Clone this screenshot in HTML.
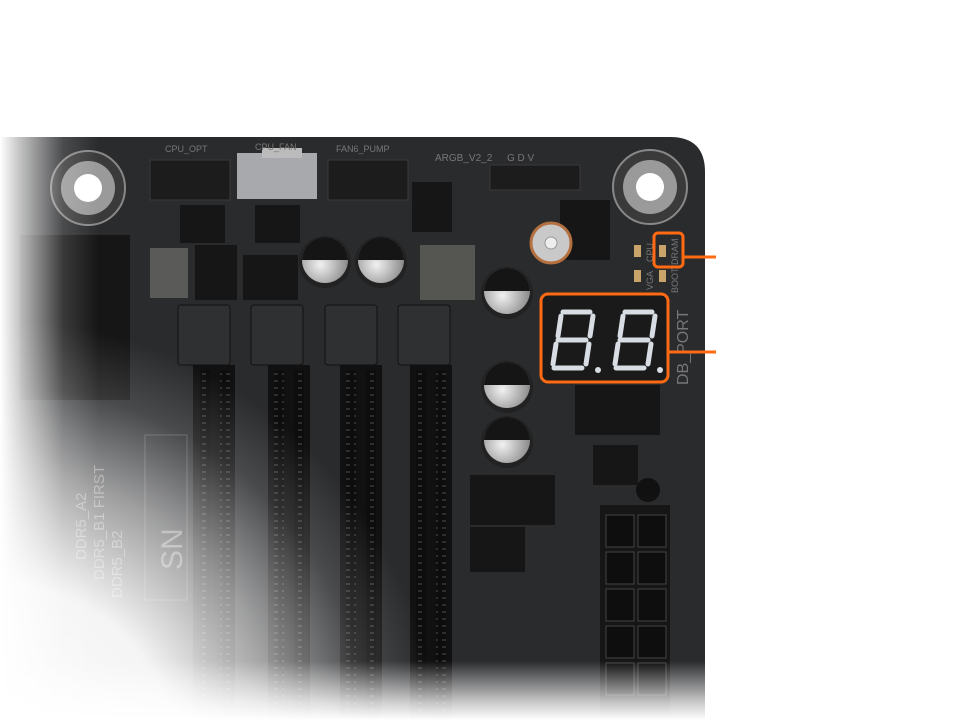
<!DOCTYPE html>
<html><head><meta charset="utf-8"><style>
html,body{margin:0;padding:0;background:#fff;}
svg{display:block}
text{font-family:"Liberation Sans",sans-serif;}
</style></head><body>
<svg width="960" height="720" viewBox="0 0 960 720" xmlns="http://www.w3.org/2000/svg">
<defs>
<linearGradient id="fadeL" x1="0" x2="1" y1="0" y2="0">
<stop offset="0" stop-color="#fff" stop-opacity="1"/>
<stop offset="0.03" stop-color="#fff" stop-opacity="0.7"/>
<stop offset="0.09" stop-color="#fff" stop-opacity="0.15"/>
<stop offset="0.14" stop-color="#fff" stop-opacity="0"/>
</linearGradient>
<linearGradient id="fadeB" x1="0" x2="0" y1="0" y2="1">
<stop offset="0" stop-color="#fff" stop-opacity="0"/>
<stop offset="0.9" stop-color="#fff" stop-opacity="0"/>
<stop offset="0.97" stop-color="#fff" stop-opacity="0.75"/>
<stop offset="1" stop-color="#fff" stop-opacity="1"/>
</linearGradient>
<radialGradient id="fadeR" gradientUnits="userSpaceOnUse" cx="0" cy="760" r="440">
<stop offset="0" stop-color="#fff" stop-opacity="1"/>
<stop offset="0.4" stop-color="#fff" stop-opacity="0.95"/>
<stop offset="0.65" stop-color="#fff" stop-opacity="0.55"/>
<stop offset="0.85" stop-color="#fff" stop-opacity="0.15"/>
<stop offset="1" stop-color="#fff" stop-opacity="0"/>
</radialGradient>
<radialGradient id="cap" cx="0.4" cy="0.6" r="0.6">
<stop offset="0" stop-color="#f2f2f2"/><stop offset="1" stop-color="#8a8a8a"/>
</radialGradient>
<pattern id="pins" width="8" height="7" patternUnits="userSpaceOnUse">
<rect width="8" height="7" fill="#0d0d0d"/><rect x="2" y="2" width="4" height="2" fill="#2e2e2e"/>
</pattern>
</defs>
<path d="M0,137 H670 Q705,137 705,172 V720 H0 Z" fill="#2a2b2d"/>
<g fill="#1c1c1d" stroke="#3a3a3a">
<rect x="150" y="160" width="80" height="40"/>
<rect x="328" y="160" width="80" height="40"/>
<rect x="490" y="165" width="90" height="25"/>
</g>
<rect x="237" y="153" width="80" height="46" fill="#a8a9ad"/>
<rect x="262" y="148" width="40" height="10" fill="#bbb"/>
<g fill="#777" font-size="9">
<text x="165" y="152">CPU_OPT</text><text x="255" y="150">CPU_FAN</text><text x="336" y="152">FAN6_PUMP</text>
<text x="435" y="161" font-size="10">ARGB_V2_2</text><text x="507" y="161" font-size="10">G   D  V</text>
</g>
<g fill="#161617">
<rect x="180" y="205" width="45" height="38"/><rect x="255" y="205" width="45" height="38"/>
<rect x="412" y="182" width="40" height="50"/>
<rect x="195" y="245" width="42" height="55"/><rect x="243" y="255" width="55" height="45"/>
<rect x="20" y="235" width="110" height="165"/>
<rect x="470" y="475" width="85" height="50"/><rect x="470" y="527" width="55" height="45"/>
<rect x="575" y="385" width="85" height="50"/><rect x="593" y="445" width="45" height="40"/>
<rect x="600" y="505" width="70" height="215"/>
<rect x="560" y="200" width="50" height="60"/>
</g>
<rect x="150" y="248" width="38" height="50" fill="#5a5a58"/>
<rect x="420" y="245" width="55" height="55" fill="#555651"/>
<rect x="145" y="435" width="42" height="165" fill="none" stroke="#555" />
<g fill="#0e0e0e" stroke="#444">
<rect x="606" y="515" width="28" height="32"/><rect x="638" y="515" width="28" height="32"/>
<rect x="606" y="552" width="28" height="32"/><rect x="638" y="552" width="28" height="32"/>
<rect x="606" y="589" width="28" height="32"/><rect x="638" y="589" width="28" height="32"/>
<rect x="606" y="626" width="28" height="32"/><rect x="638" y="626" width="28" height="32"/>
<rect x="606" y="663" width="28" height="32"/><rect x="638" y="663" width="28" height="32"/>
</g>
<g>
<rect x="193" y="365" width="42" height="355" fill="#111"/>
<rect x="268" y="365" width="42" height="355" fill="#111"/>
<rect x="340" y="365" width="42" height="355" fill="#111"/>
<rect x="410" y="365" width="42" height="355" fill="#111"/>
<rect x="200" y="370" width="10" height="350" fill="url(#pins)"/><rect x="220" y="370" width="10" height="350" fill="url(#pins)"/>
<rect x="274" y="370" width="10" height="350" fill="url(#pins)"/><rect x="294" y="370" width="10" height="350" fill="url(#pins)"/>
<rect x="346" y="370" width="10" height="350" fill="url(#pins)"/><rect x="366" y="370" width="10" height="350" fill="url(#pins)"/>
<rect x="416" y="370" width="10" height="350" fill="url(#pins)"/><rect x="436" y="370" width="10" height="350" fill="url(#pins)"/>
<g fill="#2f3031" stroke="#111">
<rect x="178" y="305" width="52" height="60" rx="3"/><rect x="251" y="305" width="52" height="60" rx="3"/>
<rect x="325" y="305" width="52" height="60" rx="3"/><rect x="398" y="305" width="52" height="60" rx="3"/>
</g>
</g>
<g>
<circle cx="325" cy="262" r="26" fill="#222"/><circle cx="325" cy="260" r="23" fill="url(#cap)"/><path d="M302,260 A23,23 0 0 1 348,260 Z" fill="#151515"/>
<circle cx="381" cy="262" r="26" fill="#222"/><circle cx="381" cy="260" r="23" fill="url(#cap)"/><path d="M358,260 A23,23 0 0 1 404,260 Z" fill="#151515"/>
<circle cx="507" cy="293" r="26" fill="#222"/><circle cx="507" cy="291" r="23" fill="url(#cap)"/><path d="M484,291 A23,23 0 0 1 530,291 Z" fill="#151515"/>
<circle cx="507" cy="387" r="26" fill="#222"/><circle cx="507" cy="385" r="23" fill="url(#cap)"/><path d="M484,385 A23,23 0 0 1 530,385 Z" fill="#151515"/>
<circle cx="507" cy="442" r="26" fill="#222"/><circle cx="507" cy="440" r="23" fill="url(#cap)"/><path d="M484,440 A23,23 0 0 1 530,440 Z" fill="#151515"/>
<circle cx="551" cy="243" r="20" fill="#c9c9c9" stroke="#b4703f" stroke-width="3"/><circle cx="551" cy="243" r="6" fill="#eee" stroke="#999"/>
<circle cx="648" cy="490" r="12" fill="#111"/>
</g>
<circle cx="88" cy="188" r="37" fill="#3a3a3a" stroke="#888" stroke-width="2"/>
<circle cx="88" cy="188" r="27" fill="#9a9a9a"/><circle cx="88" cy="188" r="14" fill="#fff"/>
<circle cx="650" cy="187" r="37" fill="#3a3a3a" stroke="#888" stroke-width="2"/>
<circle cx="650" cy="187" r="27" fill="#9a9a9a"/><circle cx="650" cy="187" r="14" fill="#fff"/>
<g fill="#c9a46a"><rect x="634" y="245" width="7" height="12"/><rect x="659" y="245" width="7" height="12"/><rect x="634" y="270" width="7" height="12"/><rect x="659" y="270" width="7" height="12"/></g>
<g fill="#777" font-size="9">
<text transform="translate(653,262) rotate(-90)">CPU</text><text transform="translate(678,265) rotate(-90)">DRAM</text>
<text transform="translate(653,290) rotate(-90)">VGA</text><text transform="translate(678,293) rotate(-90)">BOOT</text>
<text transform="translate(688,385) rotate(-90)" font-size="16">DB_PORT</text>
<text transform="translate(122,598) rotate(-90)" font-size="15">DDR5_B2</text>
<text transform="translate(104,580) rotate(-90)" font-size="15">DDR5_B1 FIRST</text>
<text transform="translate(86,560) rotate(-90)" font-size="15">DDR5_A2</text>
<text transform="translate(182,570) rotate(-90)" font-size="30">SN</text>
</g>
<rect x="541" y="294" width="127" height="88" rx="6" fill="#1a1a1a"/>
<g fill="none" stroke="#d8dde4" stroke-width="5" stroke-linecap="round">
<path d="M563,312 H590 M561,316 L558,336 M593,316 L590,336 M558,340 H586 M556,344 L553,364 M589,344 L586,364 M554,368 H582"/>
<path d="M625,312 H652 M623,316 L620,336 M655,316 L652,336 M620,340 H648 M618,344 L615,364 M651,344 L648,364 M616,368 H644"/>
</g>
<circle cx="598" cy="370" r="3" fill="#d8dde4"/><circle cx="660" cy="370" r="3" fill="#d8dde4"/>
<rect x="0" y="130" width="705" height="590" fill="url(#fadeR)"/>
<rect x="0" y="130" width="705" height="590" fill="url(#fadeL)"/>
<rect x="0" y="130" width="705" height="590" fill="url(#fadeB)"/>
<g fill="none" stroke="#ff6a13" stroke-width="3">
<rect x="654" y="233" width="29" height="34" rx="4"/>
<rect x="541" y="294" width="127" height="88" rx="7"/>
<line x1="683" y1="257" x2="716" y2="257"/>
<line x1="668" y1="352" x2="716" y2="352"/>
</g>
</svg>
</body></html>
